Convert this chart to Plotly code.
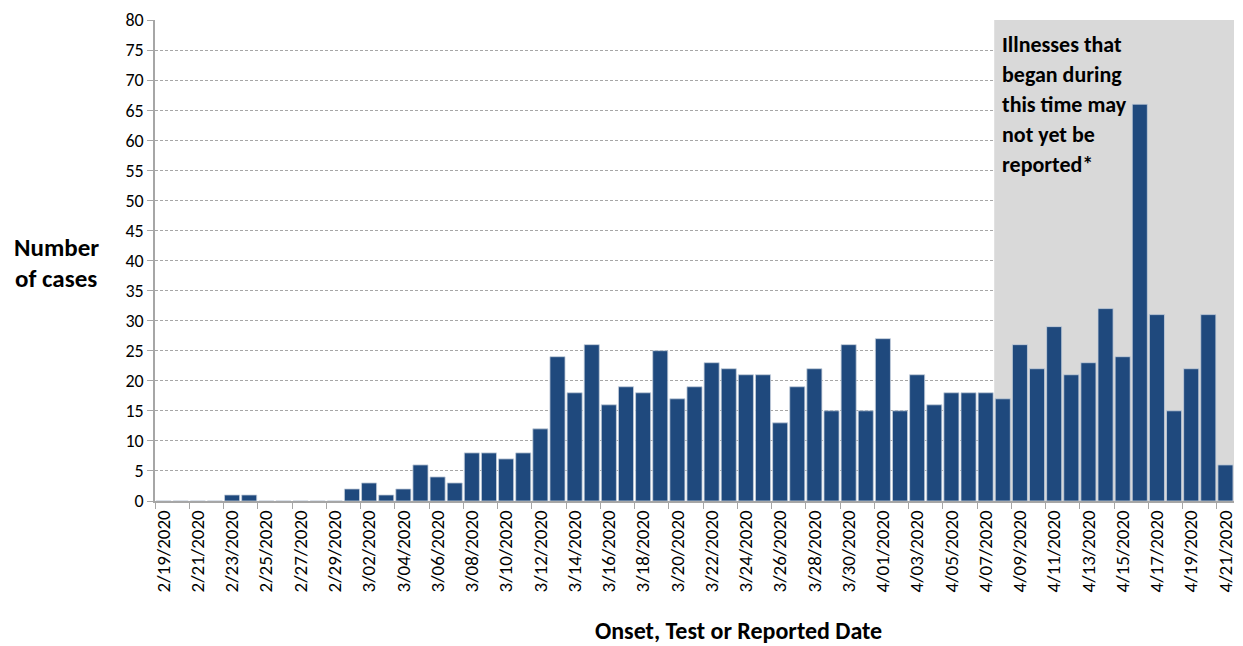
import pandas as pd
import plotly.graph_objects as go

# Categories (dates) and values
dates = [f"{d.month}/{d.day:02d}/{d.year}" for d in pd.date_range("2020-02-19", "2020-04-21")]
cases = [0, 0, 0, 0, 1, 1, 0, 0, 0, 0, 0,
         2, 3, 1, 2, 6, 4, 3, 8, 8, 7, 8, 12,
         24, 18, 26, 16, 19, 18, 25, 17, 19, 23, 22, 21, 21, 13, 19, 22, 15, 26, 15,
         27, 15, 21, 16, 18, 18, 18, 17, 26, 22, 29, 21, 23, 32, 24, 66, 31, 15, 22, 31, 6]
y_ticks = list(range(0, 85, 5))
shade_start_date = "4/08/2020"
note_lines = ["Illnesses that", "began during", "this time may", "not yet be", "reported*"]
y_title_lines = ["Number", "of cases"]
x_title = "Onset, Test or Reported Date"

FONT = "Calibri, Carlito, Lato, sans-serif"
BAR = "#1F497D"
GRID = "#A6A6A6"

fig = go.Figure()
fig.add_trace(go.Bar(
    x=dates, y=cases,
    marker=dict(color=BAR, line=dict(color="#C5CFDC", width=0.8)),
    hoverinfo="x+y",
))

n = len(dates)
s = dates.index(shade_start_date) - 0.5
fig.add_shape(type="rect", xref="x", yref="y", x0=s, x1=n - 0.5 + 0.2, y0=0, y1=80,
              fillcolor="#D9D9D9", line=dict(width=0), layer="between")

for i, t in enumerate(note_lines):
    fig.add_annotation(text=f"<b>{t}</b>", xref="x", yref="paper", x=s, y=1,
                       xanchor="left", yanchor="middle", xshift=6, yshift=-(24 + 30 * i),
                       showarrow=False, font=dict(family=FONT, size=22, color="#000000"))

for i, t in enumerate(y_title_lines):
    fig.add_annotation(text=f"<b>{t}</b>", xref="paper", yref="paper", x=0, y=1,
                       xanchor="center", yanchor="middle", xshift=-99,
                       yshift=-(227 + 31 * i),
                       showarrow=False, font=dict(family=FONT, size=25, color="#000000"))

fig.add_annotation(text=f"<b>{x_title}</b>", xref="paper", yref="paper",
                   x=(740 - 155) / 1082, y=0, xanchor="center", yanchor="middle",
                   yshift=-129, showarrow=False,
                   font=dict(family=FONT, size=24, color="#000000"))

fig.update_layout(
    width=1243, height=646,
    margin=dict(l=155, r=6, t=20, b=145),
    paper_bgcolor="white", plot_bgcolor="white",
    bargap=0.12, showlegend=False,
    font=dict(family=FONT, color="#000000"),
)
fig.update_xaxes(
    type="category", range=[-0.5, n - 0.5], tickmode="linear", tick0=0, dtick=2,
    tickson="boundaries", ticks="outside", ticklen=6, tickcolor=GRID, tickwidth=1,
    showline=True, linecolor=GRID, linewidth=1.5, showgrid=False,
    tickangle=-90, tickfont=dict(family=FONT, size=19, color="#000000"),
)
fig.update_yaxes(
    range=[0, 80], tickvals=y_ticks, ticks="outside", ticklen=6, tickcolor=GRID,
    showline=True, linecolor=GRID, linewidth=1.5,
    showgrid=True, gridcolor=GRID, griddash="3px,2px", gridwidth=1,
    zeroline=False, tickfont=dict(family=FONT, size=18, color="#000000"),
)

fig.write_html(
    "out.html",
    config={"displayModeBar": False},
    post_script="document.body.style.margin='0';document.body.style.overflow='hidden';",
)
